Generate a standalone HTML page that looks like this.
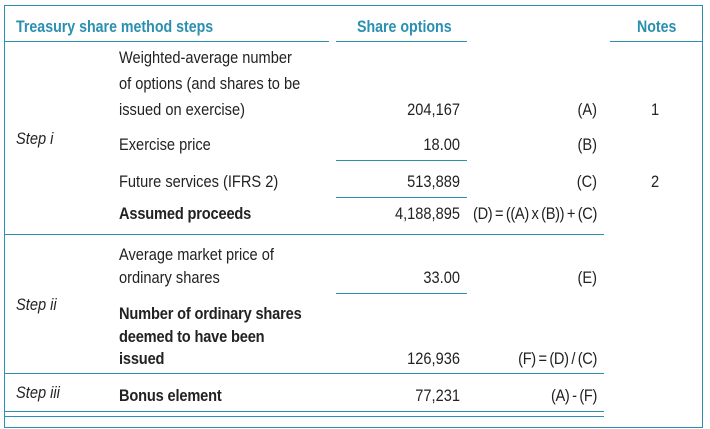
<!DOCTYPE html>
<html><head><style>
body{margin:0;width:710px;height:429px;background:#fff;position:relative;overflow:hidden;font-family:"Liberation Sans",sans-serif;font-size:17px;color:#222}
.t{position:absolute;white-space:nowrap;line-height:20px;height:20px;transform:scaleX(0.86);transform-origin:left center}
.r{text-align:right;transform-origin:right center}
.l{position:absolute;height:1.3px;background:#2a8fb0}
.b{font-weight:bold;letter-spacing:-0.2px}
.h{color:#2a8fb0;font-weight:bold;font-size:16.5px}
.i{font-style:italic}
.f{letter-spacing:-0.4px;word-spacing:-1.2px}
</style></head><body>
<div style="position:absolute;left:4px;top:5px;width:697px;height:421px;border:1.3px solid #2a8fb0"></div>
<div class="t h" style="left:16px;top:17px">Treasury share method steps</div>
<div class="t h" style="left:357px;top:17px">Share options</div>
<div class="t h" style="left:637px;top:17px">Notes</div>
<div class="l" style="left:4px;top:41px;width:325px"></div>
<div class="l" style="left:336px;top:41px;width:131px"></div>
<div class="l" style="left:610px;top:41px;width:92px"></div>

<div class="t" style="left:119px;top:48px">Weighted-average number</div>
<div class="t" style="left:119px;top:74px">of options (and shares to be</div>
<div class="t" style="left:119px;top:100px">issued on exercise)</div>
<div class="t r" style="left:300px;width:160px;top:100px">204,167</div>
<div class="t r" style="left:437px;width:160px;top:100px">(A)</div>
<div class="t" style="left:651px;top:100px">1</div>
<div class="t i" style="left:16px;top:129px">Step i</div>
<div class="t" style="left:119px;top:135px">Exercise price</div>
<div class="t r" style="left:300px;width:160px;top:135px">18.00</div>
<div class="t r" style="left:437px;width:160px;top:135px">(B)</div>
<div class="l" style="left:336px;top:160px;width:131px"></div>
<div class="t" style="left:119px;top:172px">Future services (IFRS 2)</div>
<div class="t r" style="left:300px;width:160px;top:172px">513,889</div>
<div class="t r" style="left:437px;width:160px;top:172px">(C)</div>
<div class="t" style="left:651px;top:172px">2</div>
<div class="l" style="left:336px;top:197px;width:131px"></div>
<div class="t b" style="left:119px;top:204px">Assumed proceeds</div>
<div class="t r" style="left:300px;width:160px;top:204px">4,188,895</div>
<div class="t r f" style="left:397px;width:200px;top:204px">(D) = ((A) x (B)) + (C)</div>
<div class="l" style="left:4px;top:234px;width:600px"></div>

<div class="t" style="left:119px;top:245px">Average market price of</div>
<div class="t" style="left:119px;top:268px">ordinary shares</div>
<div class="t r" style="left:300px;width:160px;top:268px">33.00</div>
<div class="t r" style="left:437px;width:160px;top:268px">(E)</div>
<div class="l" style="left:336px;top:293px;width:131px"></div>
<div class="t i" style="left:16px;top:295px">Step ii</div>
<div class="t b" style="left:119px;top:304px">Number of ordinary shares</div>
<div class="t b" style="left:119px;top:327px">deemed to have been</div>
<div class="t b" style="left:119px;top:349px">issued</div>
<div class="t r" style="left:300px;width:160px;top:349px">126,936</div>
<div class="t r f" style="left:437px;width:160px;top:349px">(F) = (D) / (C)</div>
<div class="l" style="left:4px;top:373px;width:600px"></div>

<div class="t i" style="left:16px;top:383px">Step iii</div>
<div class="t b" style="left:119px;top:386px">Bonus element</div>
<div class="t r" style="left:300px;width:160px;top:386px">77,231</div>
<div class="t r f" style="left:437px;width:160px;top:386px">(A) - (F)</div>
<div class="l" style="left:4px;top:411px;width:600px"></div>
<div class="l" style="left:4px;top:416px;width:600px"></div>
</body></html>
